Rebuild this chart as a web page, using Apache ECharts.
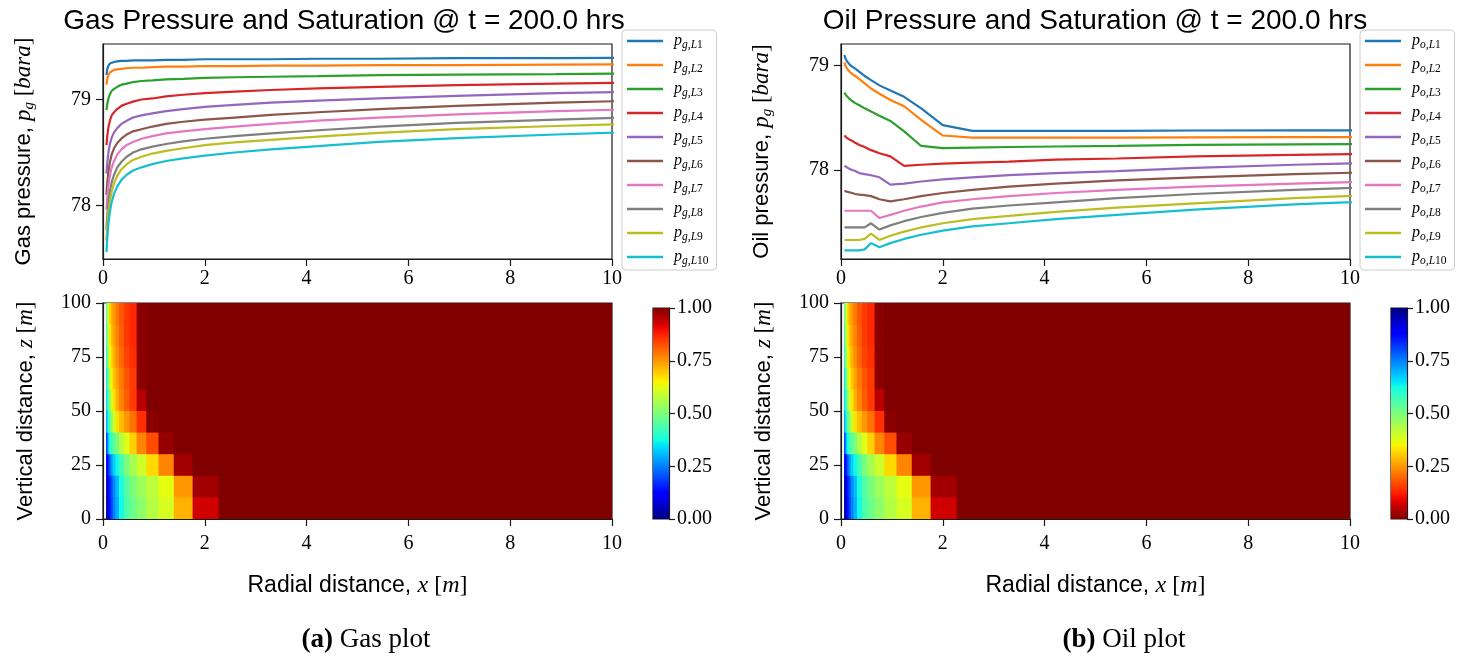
<!DOCTYPE html>
<html>
<head>
<meta charset="utf-8">
<script src="https://cdn.jsdelivr.net/npm/echarts@6/dist/echarts.min.js"></script>
<style>
  html, body { margin: 0; padding: 0; background: #fff; }
  #c { width: 1480px; height: 659px; }
</style>
</head>
<body>
<div id="c"></div>
<script>
// ---- grid geometry (m) ----
const rEdges = [0.06, 0.075, 0.095, 0.12, 0.15, 0.19, 0.245, 0.314, 0.41, 0.52, 0.66, 0.85, 1.09, 1.39, 1.76, 2.27, 2.9, 3.7, 4.75, 6.1, 7.8, 10.0, 12.8];
const rCenters = [0.068, 0.085, 0.107, 0.135, 0.17, 0.217, 0.28, 0.36, 0.465, 0.59, 0.755, 0.97, 1.24, 1.575, 2.0, 2.58, 3.3, 4.22, 5.42, 6.95, 8.9, 11.4];
const zEdges = [0, 10, 20, 30, 40, 50, 60, 70, 80, 90, 100];

// ---- tick labels ----
const xTicks = [0, 2, 4, 6, 8, 10];
const zTicks = [0, 25, 50, 75, 100];
const pTicks = [78, 79];
const cbTicks = [0, 0.25, 0.5, 0.75, 1];

// ---- gas pressure per layer (bara) at cell centres ----
const pgL1 = [79.23, 79.29, 79.32, 79.34, 79.35, 79.355, 79.36, 79.365, 79.365, 79.37, 79.37, 79.37, 79.375, 79.375, 79.38, 79.38, 79.38, 79.385, 79.385, 79.39, 79.39, 79.395];
const pgL2 = [79.14, 79.20, 79.235, 79.255, 79.27, 79.28, 79.285, 79.29, 79.295, 79.30, 79.30, 79.305, 79.31, 79.31, 79.315, 79.315, 79.32, 79.32, 79.325, 79.325, 79.33, 79.335];
const pgL3 = [78.90, 78.96, 79.01, 79.05, 79.08, 79.10, 79.12, 79.14, 79.15, 79.165, 79.175, 79.18, 79.19, 79.195, 79.205, 79.21, 79.215, 79.22, 79.23, 79.235, 79.24, 79.25];
const pgL4 = [78.57, 78.66, 78.74, 78.80, 78.85, 78.88, 78.91, 78.94, 78.96, 78.98, 79.00, 79.01, 79.03, 79.045, 79.06, 79.075, 79.09, 79.105, 79.12, 79.135, 79.15, 79.165];
const pgL5 = [78.30, 78.41, 78.50, 78.58, 78.64, 78.69, 78.73, 78.77, 78.80, 78.83, 78.85, 78.87, 78.89, 78.91, 78.93, 78.95, 78.97, 78.99, 79.01, 79.035, 79.06, 79.08];
const pgL6 = [78.10, 78.22, 78.32, 78.41, 78.48, 78.54, 78.59, 78.63, 78.67, 78.70, 78.72, 78.745, 78.77, 78.79, 78.81, 78.83, 78.855, 78.88, 78.91, 78.94, 78.97, 79.00];
const pgL7 = [77.96, 78.08, 78.19, 78.28, 78.36, 78.42, 78.48, 78.53, 78.57, 78.60, 78.63, 78.655, 78.68, 78.70, 78.72, 78.745, 78.77, 78.80, 78.83, 78.86, 78.89, 78.92];
const pgL8 = [77.77, 77.91, 78.03, 78.13, 78.22, 78.29, 78.36, 78.41, 78.46, 78.50, 78.53, 78.555, 78.58, 78.605, 78.63, 78.655, 78.68, 78.71, 78.745, 78.78, 78.81, 78.845];
const pgL9 = [77.67, 77.81, 77.94, 78.04, 78.13, 78.21, 78.28, 78.34, 78.39, 78.43, 78.46, 78.49, 78.515, 78.54, 78.57, 78.595, 78.62, 78.65, 78.685, 78.72, 78.75, 78.785];
const pgL10 = [77.56, 77.70, 77.83, 77.94, 78.03, 78.11, 78.18, 78.24, 78.29, 78.33, 78.36, 78.39, 78.42, 78.445, 78.47, 78.50, 78.53, 78.56, 78.60, 78.635, 78.67, 78.71];

// ---- oil pressure per layer (bara) at cell centres ----
const poL1 = [79.10, 79.07, 79.05, 79.03, 79.01, 78.99, 78.97, 78.94, 78.90, 78.86, 78.81, 78.76, 78.70, 78.59, 78.43, 78.375, 78.375, 78.375, 78.375, 78.378, 78.38, 78.38];
const poL2 = [79.03, 79.00, 78.98, 78.96, 78.94, 78.92, 78.90, 78.87, 78.83, 78.78, 78.73, 78.67, 78.61, 78.48, 78.33, 78.31, 78.31, 78.31, 78.31, 78.312, 78.315, 78.315];
const poL3 = [78.74, 78.73, 78.71, 78.70, 78.68, 78.66, 78.64, 78.62, 78.59, 78.56, 78.52, 78.47, 78.37, 78.23, 78.21, 78.215, 78.22, 78.225, 78.23, 78.24, 78.245, 78.25];
const poL4 = [78.33, 78.32, 78.31, 78.30, 78.29, 78.28, 78.26, 78.24, 78.22, 78.19, 78.16, 78.13, 78.04, 78.05, 78.06, 78.07, 78.08, 78.10, 78.11, 78.13, 78.145, 78.16];
const poL5 = [78.04, 78.035, 78.03, 78.02, 78.01, 78.00, 77.99, 77.97, 77.96, 77.95, 77.93, 77.86, 77.87, 77.89, 77.91, 77.93, 77.95, 77.97, 77.99, 78.02, 78.05, 78.08];
const poL6 = [77.80, 77.80, 77.795, 77.79, 77.785, 77.78, 77.77, 77.765, 77.76, 77.75, 77.72, 77.70, 77.72, 77.75, 77.78, 77.81, 77.84, 77.87, 77.90, 77.93, 77.96, 77.99];
const poL7 = [77.61, 77.61, 77.61, 77.61, 77.61, 77.61, 77.61, 77.61, 77.61, 77.61, 77.54, 77.57, 77.61, 77.65, 77.69, 77.72, 77.75, 77.78, 77.81, 77.84, 77.87, 77.90];
const poL8 = [77.45, 77.45, 77.45, 77.45, 77.45, 77.45, 77.45, 77.45, 77.45, 77.49, 77.43, 77.47, 77.51, 77.55, 77.59, 77.63, 77.66, 77.69, 77.73, 77.77, 77.81, 77.85];
const poL9 = [77.33, 77.33, 77.33, 77.33, 77.33, 77.33, 77.33, 77.33, 77.34, 77.39, 77.33, 77.37, 77.41, 77.45, 77.49, 77.53, 77.56, 77.60, 77.64, 77.68, 77.73, 77.78];
const poL10 = [77.23, 77.23, 77.23, 77.23, 77.23, 77.23, 77.23, 77.23, 77.24, 77.30, 77.26, 77.30, 77.34, 77.38, 77.42, 77.46, 77.49, 77.53, 77.57, 77.62, 77.67, 77.72];

// ---- gas saturation, row 1 = z 0-10 m ... row 10 = z 90-100 m ----
const sgRow1 = [0.02, 0.06, 0.10, 0.14, 0.19, 0.25, 0.30, 0.37, 0.44, 0.48, 0.52, 0.57, 0.61, 0.72, 0.93, 1, 1, 1, 1, 1, 1, 1];
const sgRow2 = [0.03, 0.07, 0.11, 0.15, 0.20, 0.26, 0.31, 0.38, 0.45, 0.50, 0.54, 0.58, 0.63, 0.75, 0.97, 1, 1, 1, 1, 1, 1, 1];
const sgRow3 = [0.10, 0.13, 0.16, 0.22, 0.27, 0.33, 0.37, 0.43, 0.50, 0.55, 0.60, 0.68, 0.77, 0.97, 1, 1, 1, 1, 1, 1, 1, 1];
const sgRow4 = [0.18, 0.24, 0.32, 0.38, 0.42, 0.46, 0.50, 0.57, 0.62, 0.69, 0.77, 0.83, 0.98, 1, 1, 1, 1, 1, 1, 1, 1, 1];
const sgRow5 = [0.28, 0.34, 0.40, 0.46, 0.52, 0.60, 0.67, 0.71, 0.75, 0.79, 0.86, 0.99, 1, 1, 1, 1, 1, 1, 1, 1, 1, 1];
const sgRow6 = [0.33, 0.38, 0.45, 0.53, 0.60, 0.67, 0.72, 0.77, 0.81, 0.85, 0.95, 1, 1, 1, 1, 1, 1, 1, 1, 1, 1, 1];
const sgRow7 = [0.35, 0.42, 0.50, 0.58, 0.65, 0.70, 0.74, 0.78, 0.82, 0.85, 0.99, 1, 1, 1, 1, 1, 1, 1, 1, 1, 1, 1];
const sgRow8 = [0.38, 0.48, 0.56, 0.63, 0.68, 0.72, 0.76, 0.80, 0.84, 0.86, 0.99, 1, 1, 1, 1, 1, 1, 1, 1, 1, 1, 1];
const sgRow9 = [0.40, 0.52, 0.60, 0.66, 0.70, 0.74, 0.77, 0.81, 0.85, 0.87, 0.99, 1, 1, 1, 1, 1, 1, 1, 1, 1, 1, 1];
const sgRow10 = [0.42, 0.55, 0.62, 0.68, 0.72, 0.75, 0.78, 0.82, 0.85, 0.87, 0.99, 1, 1, 1, 1, 1, 1, 1, 1, 1, 1, 1];

// ---- oil saturation, same layout ----
const soRow1 = [0.98, 0.94, 0.90, 0.86, 0.81, 0.75, 0.70, 0.63, 0.56, 0.52, 0.48, 0.43, 0.39, 0.28, 0.07, 0, 0, 0, 0, 0, 0, 0];
const soRow2 = [0.97, 0.93, 0.89, 0.85, 0.80, 0.74, 0.69, 0.62, 0.55, 0.50, 0.46, 0.42, 0.37, 0.25, 0.03, 0, 0, 0, 0, 0, 0, 0];
const soRow3 = [0.90, 0.87, 0.84, 0.78, 0.73, 0.67, 0.63, 0.57, 0.50, 0.45, 0.40, 0.32, 0.23, 0.03, 0, 0, 0, 0, 0, 0, 0, 0];
const soRow4 = [0.82, 0.76, 0.68, 0.62, 0.58, 0.54, 0.50, 0.43, 0.38, 0.31, 0.23, 0.17, 0.02, 0, 0, 0, 0, 0, 0, 0, 0, 0];
const soRow5 = [0.72, 0.66, 0.60, 0.54, 0.48, 0.40, 0.33, 0.29, 0.25, 0.21, 0.14, 0.01, 0, 0, 0, 0, 0, 0, 0, 0, 0, 0];
const soRow6 = [0.67, 0.62, 0.55, 0.47, 0.40, 0.33, 0.28, 0.23, 0.19, 0.15, 0.05, 0, 0, 0, 0, 0, 0, 0, 0, 0, 0, 0];
const soRow7 = [0.65, 0.58, 0.50, 0.42, 0.35, 0.30, 0.26, 0.22, 0.18, 0.15, 0.01, 0, 0, 0, 0, 0, 0, 0, 0, 0, 0, 0];
const soRow8 = [0.62, 0.52, 0.44, 0.37, 0.32, 0.28, 0.24, 0.20, 0.16, 0.14, 0.01, 0, 0, 0, 0, 0, 0, 0, 0, 0, 0, 0];
const soRow9 = [0.60, 0.48, 0.40, 0.34, 0.30, 0.26, 0.23, 0.19, 0.15, 0.13, 0.01, 0, 0, 0, 0, 0, 0, 0, 0, 0, 0, 0];
const soRow10 = [0.58, 0.45, 0.38, 0.32, 0.28, 0.25, 0.22, 0.18, 0.15, 0.13, 0.01, 0, 0, 0, 0, 0, 0, 0, 0, 0, 0, 0];

const gasPressure = [pgL1, pgL2, pgL3, pgL4, pgL5, pgL6, pgL7, pgL8, pgL9, pgL10];
const oilPressure = [poL1, poL2, poL3, poL4, poL5, poL6, poL7, poL8, poL9, poL10];
const gasSat = [sgRow1, sgRow2, sgRow3, sgRow4, sgRow5, sgRow6, sgRow7, sgRow8, sgRow9, sgRow10];
const oilSat = [soRow1, soRow2, soRow3, soRow4, soRow5, soRow6, soRow7, soRow8, soRow9, soRow10];

// ---- styling ----
const SERIF = '"Liberation Serif", "DejaVu Serif", serif';
const SANS = '"Liberation Sans", "DejaVu Sans", sans-serif';
const COLORS = ['#1f77b4', '#ff7f0e', '#2ca02c', '#d62728', '#9467bd', '#8c564b', '#e377c2', '#7f7f7f', '#bcbd22', '#17becf'];

// jet colormap (piecewise linear channels)
const JR = [[0, 0], [0.35, 0], [0.66, 1], [0.89, 1], [1, 0.5]];
const JG = [[0, 0], [0.125, 0], [0.375, 1], [0.64, 1], [0.91, 0], [1, 0]];
const JB = [[0, 0.5], [0.11, 1], [0.34, 1], [0.65, 0], [1, 0]];
function lerpPts(pts, v) {
  for (let i = 1; i < pts.length; i++) {
    if (v <= pts[i][0]) {
      const [x0, y0] = pts[i - 1], [x1, y1] = pts[i];
      return y0 + (y1 - y0) * (v - x0) / (x1 - x0);
    }
  }
  return pts[pts.length - 1][1];
}
function jet(v) {
  v = Math.max(0, Math.min(1, v));
  const c = [JR, JG, JB].map(p => Math.round(lerpPts(p, v) * 255));
  return 'rgb(' + c.join(',') + ')';
}

const FRAME = '#1a1a1a';
function baseAxis(extra, margin) {
  return Object.assign({
    type: 'value',
    axisLine: { show: true, onZero: false, lineStyle: { color: FRAME, width: 1.2 } },
    axisTick: { show: true, inside: false, length: 7, lineStyle: { color: FRAME, width: 1.2 } },
    axisLabel: { color: '#000', fontFamily: SERIF, fontSize: 20, margin: margin == null ? 12 : margin },
    splitLine: { show: false }
  }, extra);
}
const nameRich = {
  t: { fontFamily: SANS, fontSize: 22, color: '#000' },
  m: { fontFamily: SERIF, fontStyle: 'italic', fontSize: 23, color: '#000' },
  b: { fontFamily: SERIF, fontSize: 23, color: '#000' },
  s: { fontFamily: SERIF, fontStyle: 'italic', fontSize: 15, color: '#000', padding: [11, 0, 0, 0] }
};
const xNameRich = Object.assign({}, nameRich, {
  t: { fontFamily: SANS, fontSize: 23, color: '#000' },
  m: { fontFamily: SERIF, fontStyle: 'italic', fontSize: 24, color: '#000' },
  b: { fontFamily: SERIF, fontSize: 24, color: '#000' }
});
function axisName(text, gap, rich) {
  return { name: text, nameLocation: 'middle', nameGap: gap, nameTextStyle: { rich: rich || nameRich } };
}

// grid boxes: [left, top, width, height]
const G = [
  [103, 44, 509, 215],   // gas pressure
  [103, 303, 509, 216],  // gas saturation
  [653, 308, 16, 211],   // gas colour bar
  [841, 44, 509, 215],   // oil pressure
  [841, 303, 509, 216],  // oil saturation
  [1391, 308, 16, 211]   // oil colour bar
];
const grids = G.map(g => ({ left: g[0], top: g[1], width: g[2], height: g[3], show: true,
  borderColor: FRAME, borderWidth: 1.2, backgroundColor: 'transparent' }));

const radialName = '{t|Radial distance, }{m|x}{b| [}{m|m}{b|]}';
const verticalName = '{t|Vertical distance, }{m|z}{b| [}{m|m}{b|]}';
const xAxes = [
  baseAxis({ gridIndex: 0, min: 0, max: 10, interval: 2 }, 10),
  baseAxis(Object.assign({ gridIndex: 1, min: 0, max: 10, interval: 2 }, axisName(radialName, 55, xNameRich)), 15),
  { type: 'value', gridIndex: 2, min: 0, max: 1, show: false },
  baseAxis({ gridIndex: 3, min: 0, max: 10, interval: 2 }, 10),
  baseAxis(Object.assign({ gridIndex: 4, min: 0, max: 10, interval: 2 }, axisName(radialName, 55, xNameRich)), 15),
  { type: 'value', gridIndex: 5, min: 0, max: 1, show: false }
];
function pAxis(grid, min, max, title) {
  const a = baseAxis(Object.assign({ gridIndex: grid, min: min, max: max }, axisName(title, 66)));
  a.axisTick.customValues = pTicks;
  a.axisLabel.customValues = pTicks;
  return a;
}
function cbAxis(grid) {
  const a = baseAxis({ gridIndex: grid, min: 0, max: 1, interval: 0.25, position: 'right' });
  a.axisTick.length = 6;
  a.axisLabel.margin = 8;
  a.axisLabel.formatter = v => v.toFixed(2);
  return a;
}
const yAxes = [
  pAxis(0, 77.495, 79.524, '{t|Gas pressure, }{m|p}{s|g}{b| [}{m|bara}{b|]}'),
  baseAxis(Object.assign({ gridIndex: 1, min: 0, max: 100, interval: 25 }, axisName(verticalName, 66))),
  cbAxis(2),
  pAxis(3, 77.148, 79.206, '{t|Oil pressure, }{m|p}{s|g}{b| [}{m|bara}{b|]}'),
  baseAxis(Object.assign({ gridIndex: 4, min: 0, max: 100, interval: 25 }, axisName(verticalName, 66))),
  cbAxis(5)
];

// ---- series ----
const series = [];
function addLines(profiles, phase, grid) {
  profiles.forEach((vals, k) => {
    series.push({
      type: 'line', name: phase + ',L' + (k + 1), xAxisIndex: grid, yAxisIndex: grid,
      data: rCenters.map((x, i) => [x, vals[i]]),
      showSymbol: false, symbol: 'none', clip: true,
      lineStyle: { width: 2.2, color: COLORS[k] }, itemStyle: { color: COLORS[k] },
      emphasis: { disabled: true }, z: 3
    });
  });
}
addLines(gasPressure, 'g', 0);
addLines(oilPressure, 'o', 3);

function cellData(rows) {
  const out = [];
  rows.forEach((row, r) => row.forEach((v, c) => {
    out.push([rEdges[c], rEdges[c + 1], zEdges[r], zEdges[r + 1], v]);
  }));
  return out;
}
// each cell is painted slightly oversize (up and right) so neighbours overlap without seams
function cellRenderer(reversed) {
  return function (params, api) {
    const a = api.coord([api.value(0), api.value(2)]);
    const b = api.coord([api.value(1), api.value(3)]);
    const cs = params.coordSys;
    const rect = echarts.graphic.clipRectByRect(
      { x: a[0], y: b[1] - 1, width: b[0] - a[0] + 1, height: a[1] - b[1] + 1 },
      { x: cs.x, y: cs.y, width: cs.width, height: cs.height });
    if (!rect) return;
    const v = api.value(4);
    return { type: 'rect', shape: rect, style: { fill: jet(reversed ? 1 - v : v) } };
  };
}
series.push({ type: 'custom', xAxisIndex: 1, yAxisIndex: 1, data: cellData(gasSat),
  encode: { x: [0, 1], y: [2, 3] }, renderItem: cellRenderer(false), silent: true, z: 1 });
series.push({ type: 'custom', xAxisIndex: 4, yAxisIndex: 4, data: cellData(oilSat),
  encode: { x: [0, 1], y: [2, 3] }, renderItem: cellRenderer(true), silent: true, z: 1 });

function barRenderer(reversed) {
  return function (params, api) {
    const a = api.coord([0, 0]);
    const b = api.coord([1, 1]);
    const stops = [];
    for (let i = 0; i <= 40; i++) {
      const t = i / 40;
      stops.push({ offset: t, color: jet(reversed ? 1 - t : t) });
    }
    return { type: 'rect', shape: { x: a[0], y: b[1], width: b[0] - a[0], height: a[1] - b[1] },
      style: { fill: new echarts.graphic.LinearGradient(0, 1, 0, 0, stops) } };
  };
}
series.push({ type: 'custom', xAxisIndex: 2, yAxisIndex: 2, data: [[0, 0, 1, 1]],
  encode: { x: [0, 2], y: [1, 3] }, renderItem: barRenderer(false), silent: true });
series.push({ type: 'custom', xAxisIndex: 5, yAxisIndex: 5, data: [[0, 0, 1, 1]],
  encode: { x: [0, 2], y: [1, 3] }, renderItem: barRenderer(true), silent: true });

// ---- legends ----
function legendFor(phase, left) {
  const names = COLORS.map((c, k) => phase + ',L' + (k + 1));
  return {
    data: names, orient: 'vertical', left: left, top: 30, z: 20,
    padding: [3, 8, 3, 5], itemGap: 6, itemWidth: 36, itemHeight: 2.6, icon: 'rect',
    backgroundColor: '#fff', borderColor: '#cccccc', borderWidth: 1, borderRadius: 4,
    selectedMode: false,
    formatter: name => {
      const m = name.match(/^(.*L)(\d+)$/);
      return '{p|p}{s|' + m[1] + '}{n|' + m[2] + '}';
    },
    textStyle: {
      rich: {
        p: { fontFamily: SERIF, fontStyle: 'italic', fontSize: 16, color: '#000', padding: [0, 0, 0, 6] },
        s: { fontFamily: SERIF, fontStyle: 'italic', fontSize: 11.5, color: '#000', padding: [8, 0, 0, 0] },
        n: { fontFamily: SERIF, fontSize: 11.5, color: '#000', padding: [8, 0, 0, 0] }
      }
    }
  };
}

// ---- titles and captions ----
function text(x, y, str, style) {
  return { type: 'text', x: x, y: y, z: 1,
    style: Object.assign({ text: str, textAlign: 'center', textVerticalAlign: 'middle', fill: '#000' }, style) };
}
const capRich = { b: { fontFamily: SERIF, fontSize: 27, fontWeight: 'bold' } };
const graphics = [
  text(344, 21, 'Gas Pressure and Saturation @ t = 200.0 hrs', { fontFamily: SANS, fontSize: 28 }),
  text(1095, 21, 'Oil Pressure and Saturation @ t = 200.0 hrs', { fontFamily: SANS, fontSize: 28 }),
  text(366, 640, '{b|(a)} Gas plot', { fontFamily: SERIF, fontSize: 27, rich: capRich }),
  text(1124, 640, '{b|(b)} Oil plot', { fontFamily: SERIF, fontSize: 27, rich: capRich })
];

const chart = echarts.init(document.getElementById('c'));
chart.setOption({
  animation: false,
  backgroundColor: '#fff',
  grid: grids,
  xAxis: xAxes,
  yAxis: yAxes,
  legend: [legendFor('g', 622), legendFor('o', 1360)],
  graphic: { elements: graphics },
  series: series
});
</script>
</body>
</html>
